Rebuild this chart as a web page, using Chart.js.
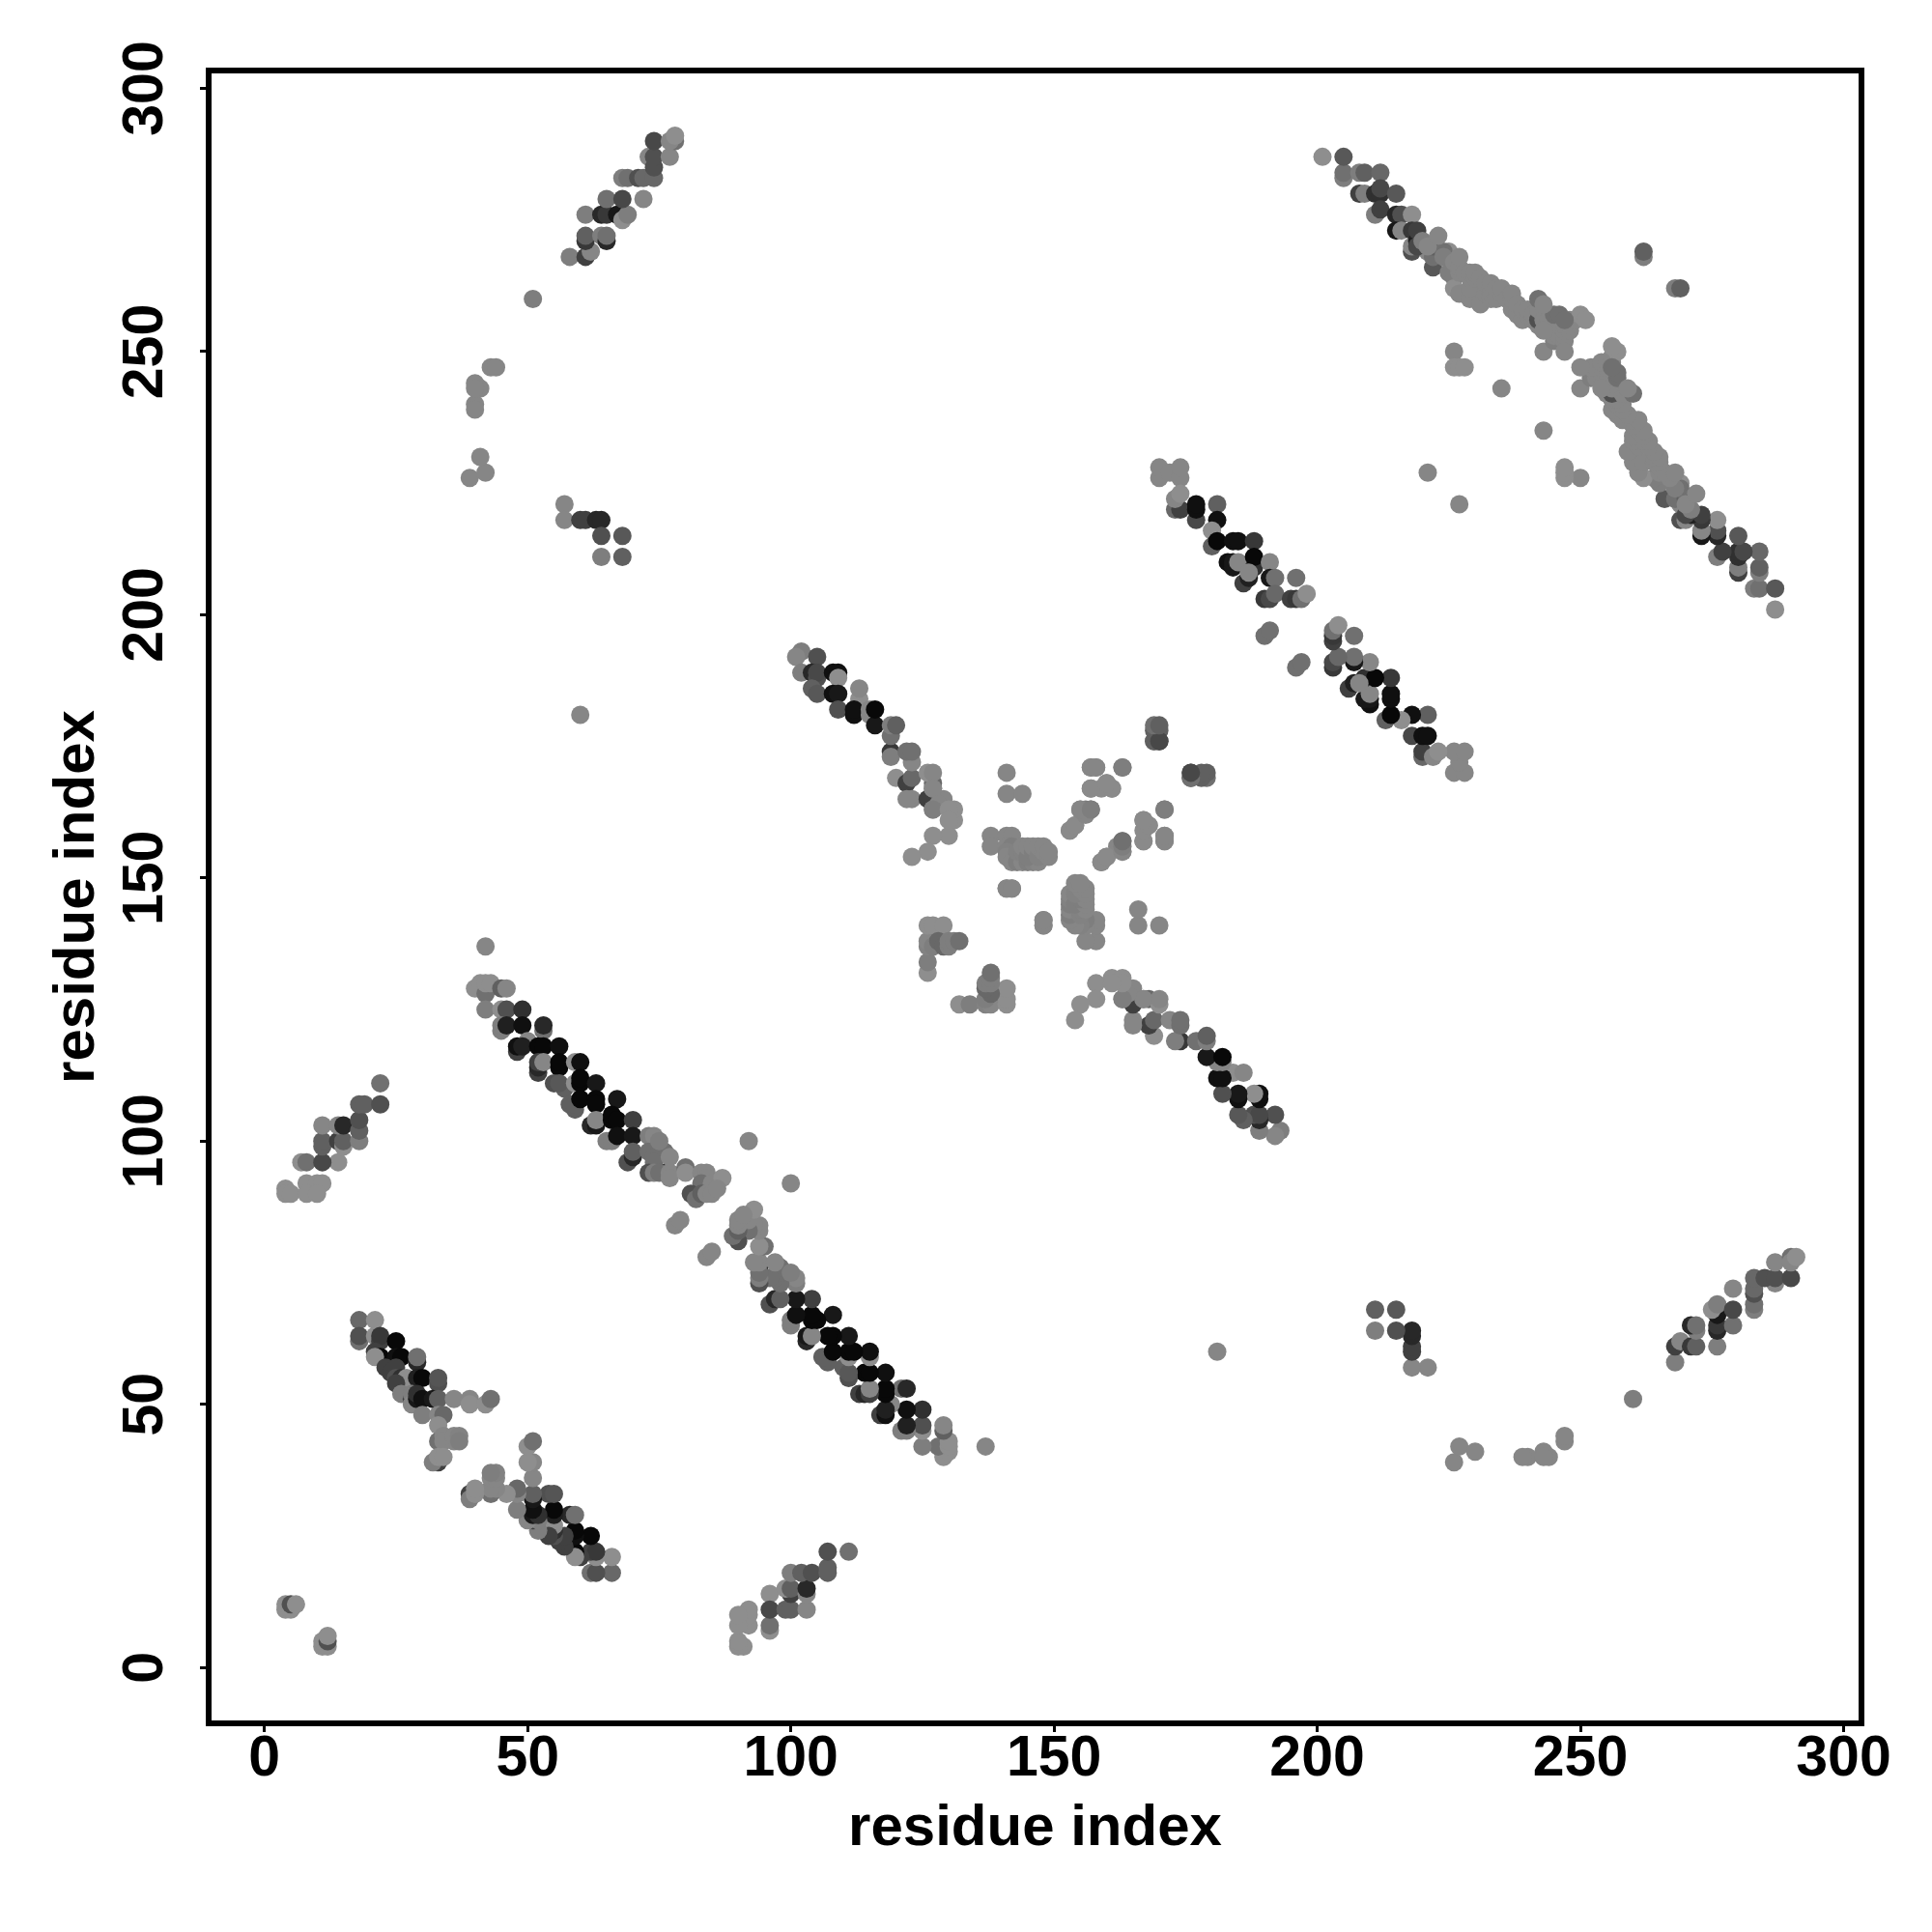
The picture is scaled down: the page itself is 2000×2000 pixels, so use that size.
<!DOCTYPE html>
<html><head><meta charset="utf-8">
<style>html,body{margin:0;padding:0;background:#fff}canvas{display:block}</style>
<script src="https://cdn.jsdelivr.net/npm/chart.js@4/dist/chart.umd.min.js"></script>
</head><body><canvas id="c" width="2000" height="2000"></canvas>
<script>
const tickValues=[0,50,100,150,200,250,300];
const axisTitle="residue index";
// contacts: [residue a, residue b, grey level]; the contact map is plotted for (a,b) and (b,a)
const contactsTerminal=[[4,11,136],[4,12,136],[5,11,136],[5,12,80],[6,12,136]];
const contactsHinge=[[4,91,136],[4,90,136],[5,90,136],[8,92,136],[10,92,136],[11,92,136],[8,90,136],[10,90,136],[7,96,136],[8,96,112],[14,96,136],[11,96,72],[11,99,96],[11,100,96],[11,103,128],[14,100,64],[15,99,136],[15,100,96],[18,100,120],[14,103,128],[15,103,40],[18,102,96],[18,104,80],[18,107,96],[19,107,96],[22,107,80],[22,111,112]];
const contactsBandA=[[18,66,104],[21,66,136],[18,62,112],[18,63,80],[21,63,136],[22,62,64],[22,63,56],[25,62,8],[21,60,64],[22,59,8],[21,59,136],[25,59,16],[26,59,8],[29,58,40],[29,59,112],[23,57,64],[24,56,64],[25,57,64],[25,55,80],[26,55,48],[27,55,136],[25,54,64],[29,55,32],[30,55,8],[33,54,80],[33,55,85],[26,52,120],[28,51,64],[28,52,120],[28,50,128],[29,51,24],[29,52,48],[30,51,16],[32,51,24],[33,51,96],[36,51,128],[39,51,128],[39,50,136],[42,50,136],[43,51,112],[30,48,120],[33,48,128],[34,48,104],[33,46,136],[33,43,112],[34,44,128],[34,43,128],[36,43,128],[36,44,128],[37,44,124],[37,43,120],[33,39,64],[32,39,120],[33,40,136],[34,40,136]];
const contactsBandB=[[40,129,136],[41,130,136],[42,128,112],[42,130,136],[43,130,136],[45,129,96],[46,129,128],[42,125,120],[45,125,136],[46,125,80],[49,125,48],[45,121,120],[45,122,120],[46,122,32],[49,122,16],[53,121,112],[53,122,40],[48,117,64],[48,118,16],[50,119,128],[49,118,32],[52,118,8],[53,118,8],[56,118,16],[52,113,64],[52,114,40],[52,115,64],[53,115,128],[56,114,8],[56,115,8],[55,111,80],[57,110,96],[59,115,136],[60,115,16],[56,111,88],[59,111,136],[60,111,8],[60,112,8],[63,111,24],[58,107,96],[59,106,96],[59,107,96],[60,108,8],[63,108,8],[63,107,8],[67,108,24],[62,103,40],[63,103,24],[63,104,128],[66,104,8],[66,105,8],[67,104,8],[70,104,64],[65,100,120],[66,100,120],[67,101,16],[70,101,24],[73,101,120],[74,101,128],[69,96,80],[70,97,40],[70,98,96],[73,98,112],[74,97,112],[75,98,112],[76,98,112],[74,96,112],[75,100,120],[73,94,80],[76,94,40],[74,94,120],[75,94,112],[77,94,128],[77,97,128],[80,95,112],[77,93,128],[80,94,136],[83,94,128],[84,94,128],[84,93,128],[83,92,112],[85,92,128],[87,93,136],[81,90,80],[82,89,112],[83,90,96],[84,90,128],[85,90,128],[86,91,128],[78,84,128],[79,85,128],[92,100,128]];
const contactsBandC=[[102,193,120],[101,192,128],[105,192,80],[102,189,120],[104,189,40],[105,188,80],[105,189,72],[108,189,16],[109,189,16],[109,188,136],[104,186,96],[105,185,88],[108,185,16],[109,185,24],[113,184,136],[113,186,128],[109,182,80],[112,181,16],[112,182,16],[115,181,128],[115,182,128],[116,179,24],[116,182,8],[119,174,56],[119,173,120],[119,177,112],[119,179,120],[120,179,96],[120,169,136],[122,168,64],[123,169,104],[123,172,128],[122,174,112],[123,174,112],[123,165,128],[122,165,128],[126,165,64],[127,163,128],[127,167,120],[127,168,104],[126,170,136],[129,165,128],[131,161,136],[131,163,136],[130,158,136],[127,158,136],[126,155,136],[123,154,136],[127,170,128],[127,167,128],[128,164,128],[127,163,120],[130,163,136],[130,161,136]];
const contactsCentre=[[141,170,128],[141,166,128],[144,166,128],[138,158,128],[138,156,128],[141,158,128],[142,158,128],[141,156,128],[142,156,120],[141,155,124],[142,154,124],[141,154,128],[142,153,128],[143,153,120],[144,153,128],[145,153,120],[146,153,124],[147,153,128],[143,155,124],[144,155,124],[144,156,128],[145,154,120],[145,156,128],[146,155,120],[146,156,128],[147,154,124],[147,156,128],[148,155,128],[148,156,128],[149,154,128],[149,155,128],[141,148,128],[142,148,128],[148,141,128],[148,142,128],[126,132,136],[126,134,120],[126,137,124],[126,138,128],[126,141,136],[127,141,136],[129,141,136],[127,137,120],[128,138,104],[129,137,104],[130,137,120],[130,138,120],[131,138,120],[132,138,112],[157,171,128],[158,171,128],[163,171,120],[157,167,132],[159,167,132],[160,168,132],[161,167,132],[153,159,132],[154,160,132],[155,163,128],[156,163,120],[157,163,112],[159,153,132],[160,154,132],[162,156,128],[163,155,128],[163,157,120],[167,157,132],[167,161,132],[168,160,132],[171,157,128],[171,158,128],[171,163,120],[169,178,96],[170,178,96],[169,176,112],[170,176,72],[176,169,96],[176,170,72],[179,169,112],[179,170,96]];
const contactsBandD=[[170,226,128],[170,228,128],[172,227,128],[174,226,128],[174,228,128],[173,220,104],[174,220,64],[173,222,128],[174,223,136],[177,218,72],[177,220,16],[177,221,16],[181,221,96],[181,218,16],[180,216,136],[180,213,96],[181,214,8],[184,214,16],[185,214,16],[188,214,56],[183,210,16],[184,209,24],[184,210,24],[185,210,128],[188,209,48],[188,211,8],[191,210,128],[186,206,64],[187,207,32],[187,208,128],[191,207,24],[192,207,112],[190,203,56],[191,203,72],[192,204,104],[196,207,112],[195,203,64],[196,203,56],[197,203,112],[198,204,136],[190,196,112],[191,197,112]];
const contactsOuter=[[58,268,120],[61,268,64],[62,269,128],[61,271,56],[61,272,96],[61,276,120],[64,272,120],[65,271,40],[65,272,112],[64,276,40],[65,276,56],[67,276,24],[68,275,136],[69,276,120],[65,279,112],[68,279,72],[72,279,128],[68,283,120],[69,283,112],[71,283,80],[72,283,104],[74,283,104],[73,287,128],[74,285,80],[74,287,80],[77,287,128],[74,290,72],[78,290,112],[77,290,128],[78,291,136]];
const contactsIsolated=[[39,226,128],[42,227,128],[41,230,128],[40,240,128],[40,244,128],[41,243,128],[43,247,128],[44,247,128],[51,260,120],[40,239,128],[40,243,128],[60,181,128],[42,137,128],[57,221,128],[57,218,128],[60,218,64],[61,218,64],[63,218,40],[64,218,40],[64,215,80],[68,215,88],[64,211,120],[68,211,96],[221,227,128],[226,250,128],[226,247,136],[227,247,136],[228,247,136],[243,250,128],[235,243,128],[262,268,120],[262,269,96]];
const contactsBandE=[[201,287,136],[205,283,120],[205,284,112],[205,287,88],[208,284,120],[209,284,96],[212,284,104],[208,280,64],[209,280,120],[211,280,48],[212,280,48],[212,281,72],[215,280,88],[211,276,120],[212,277,64],[215,276,40],[216,276,80],[218,276,136],[215,273,24],[216,273,128],[218,273,56],[218,269,80],[218,270,128],[221,269,128],[222,266,88],[222,268,112],[222,270,96],[225,269,136],[224,269,112],[224,268,120],[225,265,120],[226,264,120],[226,262,136],[226,267,128],[227,261,128],[227,265,128],[227,266,128],[227,268,128],[228,265,128],[229,260,128],[229,262,128],[229,264,128],[229,265,128],[230,264,128],[230,265,128],[231,259,128],[231,264,128],[232,261,128],[232,263,128],[233,260,128],[233,261,128],[233,262,128],[233,263,128],[234,260,128],[234,262,128],[235,261,128],[235,262,128],[236,260,128],[237,258,128],[237,260,128],[237,261,128],[238,257,128],[238,259,128],[239,256,128],[239,258,128],[240,257,128],[240,258,128],[241,256,128],[241,257,128],[242,255,128],[242,256,80],[242,258,128],[242,260,112],[243,256,128],[244,256,128],[245,252,120],[245,253,128],[245,254,128],[245,255,128],[246,253,128],[246,254,128],[246,255,128],[245,257,112],[246,257,112],[247,252,128],[247,253,128],[247,254,128],[247,255,128],[248,254,128],[248,255,128],[248,256,128],[249,256,128],[250,257,136],[251,256,136],[247,250,128],[247,256,112],[243,254,128],[243,259,128],[219,271,32],[219,273,64]];
const contactsBandF=[[219,270,72],[220,271,120],[221,270,128],[223,272,128]];

const contacts=[contactsTerminal,contactsHinge,contactsBandA,contactsBandB,contactsBandC,contactsCentre,contactsBandD,contactsOuter,contactsIsolated,contactsBandE,contactsBandF].flat();
const points=[],colors=[];
const grey=s=>{const v=s>=120?s+6:s;return `rgb(${v},${v},${v})`;};
for(const [a,b,s] of contacts){points.push({x:a,y:b});colors.push(grey(s));}
for(const [a,b,s] of contacts){points.push({x:b,y:a});colors.push(grey(s));}

const FONT='"Liberation Sans"';
const setTicks=s=>{s.ticks=tickValues.map(v=>({value:v}));};
const box={id:'box',afterDatasetsDraw(c){const a=c.chartArea,x=c.ctx;x.save();x.strokeStyle='#000';x.lineWidth=6;x.lineJoin='miter';x.strokeRect(a.left,a.top,a.right-a.left,a.bottom-a.top);x.restore();}};
new Chart(document.getElementById('c'),{
 type:'scatter',
 data:{datasets:[{data:points,pointBackgroundColor:colors,pointBorderWidth:0,pointRadius:9.5,pointHoverRadius:9.5,showLine:false}]},
 plugins:[box],
 options:{responsive:false,animation:false,events:[],
  layout:{padding:{top:73,right:73,left:0,bottom:0}},
  plugins:{legend:{display:false},tooltip:{enabled:false},title:{display:false}},
  scales:{
   x:{type:'linear',min:-10.6,max:303.4,afterBuildTicks:setTicks,afterFit:s=>{s.height=216;},
    grid:{drawOnChartArea:false,drawTicks:true,tickLength:9,tickWidth:3,tickColor:'#000'},border:{display:false},
    ticks:{color:'#000',font:{family:FONT,weight:'bold',size:59},padding:-7,autoSkip:false,maxRotation:0,minRotation:0},
    title:{display:true,text:axisTitle,color:'#000',font:{family:FONT,weight:'bold',size:60},padding:{top:0,bottom:71}}},
   y:{type:'linear',min:-10.6,max:303.4,afterBuildTicks:setTicks,afterFit:s=>{s.width=216;},
    grid:{drawOnChartArea:false,drawTicks:true,tickLength:9,tickWidth:3,tickColor:'#000'},border:{display:false},
    ticks:{color:'#000',font:{family:FONT,weight:'bold',size:59},padding:6,autoSkip:false,minRotation:90,maxRotation:90,crossAlign:'center'},
    title:{display:true,text:axisTitle,color:'#000',font:{family:FONT,weight:'bold',size:60},padding:{top:44,bottom:0}}}
  }}
});
</script></body></html>
